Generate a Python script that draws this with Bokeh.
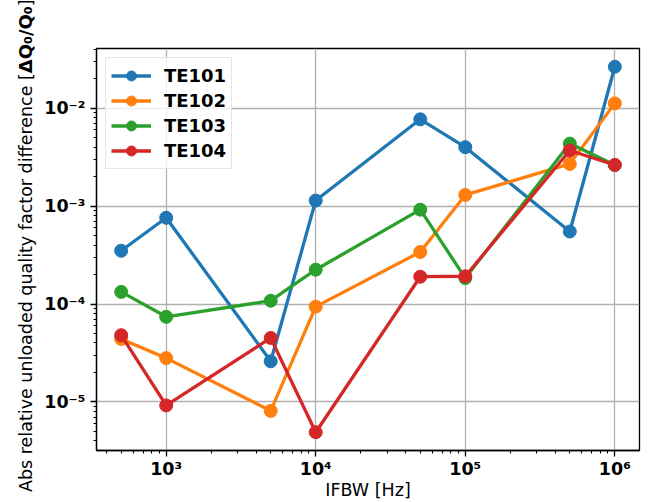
import math
from bokeh.plotting import figure
from bokeh.layouts import row
from bokeh.models import Range1d, Legend, LegendItem, CustomJSTickFormatter, Div
from bokeh.embed import file_html
from bokeh.resources import INLINE

# ---- data ----
ifbw = [500, 1000, 5000, 10000, 50000, 100000, 500000, 1000000]
te101 = [3.5e-4, 7.6e-4, 2.6e-5, 1.14e-3, 7.7e-3, 4.0e-3, 5.5e-4, 2.65e-2]
te102 = [4.4e-5, 2.8e-5, 8.1e-6, 9.4e-5, 3.4e-4, 1.3e-3, 2.7e-3, 1.12e-2]
te103 = [1.33e-4, 7.4e-5, 1.08e-4, 2.24e-4, 9.2e-4, 1.84e-4, 4.35e-3, 2.63e-3]
te104 = [4.8e-5, 9.2e-6, 4.5e-5, 4.9e-6, 1.9e-4, 1.92e-4, 3.7e-3, 2.63e-3]
series_names = ["TE101", "TE102", "TE103", "TE104"]
series_values = [te101, te102, te103, te104]
colors = ["#1f77b4", "#ff7f0e", "#2ca02c", "#d62728"]
x_label = "IFBW [Hz]"
y_label_plain = "Abs relative unloaded quality factor difference ["
y_label_bold = "\u0394Q\u2080/Q\u2080"
y_label_end = "]"

FONT = "DejaVu Sans"
FS = "17.5px"
LABEL_W = 40
H = 502

# matplotlib-like 5% margins in log space
def log_range(vals):
    lo = math.log10(min(vals))
    hi = math.log10(max(vals))
    m = 0.05 * (hi - lo)
    return 10 ** (lo - m), 10 ** (hi + m)

all_y = [v for s in series_values for v in s]
x0, x1 = log_range(ifbw)
y0, y1 = log_range(all_y)

p = figure(width=656 - LABEL_W, height=H, x_axis_type="log", y_axis_type="log",
           x_range=Range1d(x0, x1), y_range=Range1d(y0, y1),
           output_backend="svg", toolbar_location=None,
           min_border_left=96 - LABEL_W, min_border_right=17,
           min_border_top=48, min_border_bottom=52, margin=0)

p.background_fill_color = "white"
p.border_fill_color = "white"
p.outline_line_color = "black"
p.outline_line_width = 1.3
p.outline_line_alpha = 1.0

p.grid.grid_line_color = "#b0b0b0"
p.grid.grid_line_width = 1.3

fmt_code = """
const sup = {"-": "\\u207b", "0": "\\u2070", "1": "\\u00b9", "2": "\\u00b2", "3": "\\u00b3",
             "4": "\\u2074", "5": "\\u2075", "6": "\\u2076", "7": "\\u2077", "8": "\\u2078", "9": "\\u2079"};
const e = Math.round(Math.log10(tick));
return "10" + String(e).split("").map(c => sup[c]).join("");
"""
for ax in (p.xaxis[0], p.yaxis[0]):
    ax.formatter = CustomJSTickFormatter(code=fmt_code)
    ax.major_label_text_font = FONT
    ax.major_label_text_font_style = "bold"
    ax.major_label_text_font_size = FS
    ax.major_label_text_color = "black"
    ax.axis_line_color = "black"
    ax.axis_line_width = 1.3
    ax.major_tick_line_color = "black"
    ax.major_tick_line_width = 1.3
    ax.minor_tick_line_color = "black"
    ax.minor_tick_line_width = 1.0
    ax.major_tick_in = 0
    ax.major_tick_out = 6
    ax.minor_tick_in = 0
    ax.minor_tick_out = 3
    ax.major_label_standoff = 5
p.xaxis.major_label_standoff = 2

p.xaxis.axis_label = x_label
p.xaxis.axis_label_text_font = FONT
p.xaxis.axis_label_text_font_style = "normal"
p.xaxis.axis_label_text_font_size = FS
p.xaxis.axis_label_text_color = "black"
p.xaxis.axis_label_standoff = -2

items = []
for name, vals, col in zip(series_names, series_values, colors):
    ln = p.line(ifbw, vals, line_color=col, line_width=3.3)
    sc = p.scatter(ifbw, vals, size=13, fill_color=col, line_color=col)
    items.append(LegendItem(label=name, renderers=[ln, sc]))

legend = Legend(items=items, location="top_left", margin=9)
legend.label_text_font = FONT
legend.label_text_font_style = "bold"
legend.label_text_font_size = "18px"
legend.label_text_color = "black"
legend.glyph_width = 40
legend.glyph_height = 25
legend.label_height = 25
legend.label_standoff = 13
legend.padding = 5
legend.spacing = 0
legend.border_line_color = "#cccccc"
legend.border_line_width = 1.3
legend.background_fill_alpha = 0.8
p.add_layout(legend)

# y-axis label (plain text with a bold part), rotated, in a narrow strip on the left
label_html = (
    f'<div style="position:relative;width:{LABEL_W}px;height:{H}px;overflow:visible;">'
    f'<div style="position:absolute;left:16px;top:492px;transform:rotate(-90deg);'
    f'transform-origin:left top;white-space:nowrap;font-family:\'{FONT}\';'
    f'font-size:{FS};line-height:20px;color:black;">'
    f'{y_label_plain}<b style="font-size:18px;">{y_label_bold}</b>{y_label_end}</div></div>'
)
lab = Div(text=label_html, width=LABEL_W, height=H, margin=0)

layout = row(lab, p, spacing=0)
open("out.html", "w").write(file_html(layout, INLINE))
